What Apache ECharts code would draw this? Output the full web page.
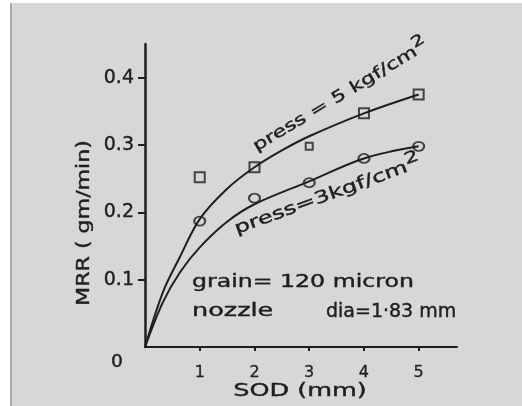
<!DOCTYPE html>
<html><head><meta charset="utf-8">
<script src="https://cdn.jsdelivr.net/npm/echarts@6/dist/echarts.min.js"></script>
<style>html,body{margin:0;padding:0;background:#fff}#c{width:522px;height:406px}</style>
</head><body><div id="c"></div>
<script>
// data
const sod = [1, 2, 3, 4, 5];
const mrrPress5 = [0.252, 0.267, 0.298, 0.347, 0.375];
const mrrPress3 = [0.187, 0.221, 0.244, 0.280, 0.298];
const fit5X = [0, 0.33, 0.64, 1, 1.5, 2, 2.5, 3, 4, 5];
const fit5Y = [0, 0.082, 0.134, 0.19, 0.235, 0.267, 0.292, 0.313, 0.347, 0.375];
const fit3X = [0, 0.33, 0.64, 1, 1.5, 2, 3, 4, 5];
const fit3Y = [0, 0.067, 0.111, 0.148, 0.186, 0.212, 0.246, 0.280, 0.298];
const yTicks = [0.1, 0.2, 0.3, 0.4];
const xTicks = [1, 2, 3, 4, 5];

const ink = '#1e1e1e';
const font = '"DejaVu Sans", sans-serif';
const zip = (a, b) => a.map((v, i) => [v, b[i]]);

function txt(text, x, y, size, sx, rot, align, rich) {
  const st = { text: text, fill: ink, font: size + 'px ' + font,
    align: align || 'center', verticalAlign: 'middle' };
  if (rich) st.rich = rich; else { st.stroke = ink; st.lineWidth = 0.4; }
  return { type: 'text', x: x, y: y, rotation: rot || 0, scaleX: sx || 1, scaleY: 1, silent: true, style: st };
}
function supRich(size) {
  return {
    a: { fontSize: size, fontFamily: font, fill: ink, stroke: ink, lineWidth: 0.4 },
    s: { fontSize: size - 1, fontFamily: font, fill: ink, stroke: ink, lineWidth: 0.4, padding: [0, 0, 14, 0] }
  };
}

const chart = echarts.init(document.getElementById('c'), null, { renderer: 'canvas' });
chart.setOption({
  backgroundColor: '#d7d7d7',
  animation: false,
  grid: { left: 145, right: 65, top: 44, bottom: 59, containLabel: false },
  xAxis: {
    type: 'value', min: 0, max: 5.7, interval: 1,
    axisLine: { show: true, lineStyle: { color: ink, width: 2 } },
    axisTick: { show: true, length: 4, lineStyle: { color: ink, width: 2 },
      customValues: xTicks },
    axisLabel: { color: ink, fontSize: 16, fontFamily: font, margin: 18,
      textBorderColor: ink, textBorderWidth: 0.3,
      customValues: xTicks, formatter: v => xTicks.includes(v) ? String(v) : '' },
    splitLine: { show: false }
  },
  yAxis: {
    type: 'value', min: 0, max: 0.45, interval: 0.1,
    axisLine: { show: true, lineStyle: { color: ink, width: 2.5 } },
    axisTick: { show: true, length: 7, lineStyle: { color: ink, width: 2 },
      customValues: yTicks },
    axisLabel: { color: ink, fontSize: 19, fontFamily: font, margin: 11,
      textBorderColor: ink, textBorderWidth: 0.4,
      customValues: yTicks, formatter: v => v.toFixed(1) },
    splitLine: { show: false }
  },
  series: [
    { type: 'line', data: zip(fit5X, fit5Y), smooth: 0.35, showSymbol: false,
      lineStyle: { color: ink, width: 2 }, silent: true },
    { type: 'line', data: zip(fit3X, fit3Y), smooth: 0.35, showSymbol: false,
      lineStyle: { color: ink, width: 2 }, silent: true },
    { type: 'scatter', symbol: 'rect', symbolSize: 10,
      data: zip(sod, mrrPress5).map((p, i) => i === 2 ? { value: p, symbolSize: 7 } : p),
      itemStyle: { color: 'rgba(0,0,0,0)', borderColor: ink, borderWidth: 2 } },
    { type: 'scatter', symbol: 'circle', symbolSize: [11, 9],
      data: zip(sod, mrrPress3),
      itemStyle: { color: 'rgba(0,0,0,0)', borderColor: ink, borderWidth: 2 } }
  ],
  graphic: [
    { type: 'rect', shape: { x: 0, y: 0, width: 10, height: 406 }, style: { fill: '#ffffff' }, silent: true },
    { type: 'rect', shape: { x: 0, y: 0, width: 522, height: 3 }, style: { fill: '#ffffff' }, silent: true },
    { type: 'rect', shape: { x: 10, y: 3, width: 2, height: 403 }, style: { fill: '#a8a8a8' }, silent: true },
    txt('{a|press = 5 kgf/cm}{s|2}', 341, 96, 16, 1.38, 31 * Math.PI / 180, 'center', supRich(16)),
    txt('{a|press=3kgf/cm}{s|2}', 328, 196, 17, 1.42, 20 * Math.PI / 180, 'center', supRich(17)),
    txt('grain= 120 micron', 192, 283, 17, 1.39, 0, 'left'),
    txt('nozzle', 192, 312, 17, 1.5, 0, 'left'),
    txt('dia=1·83 mm', 326, 312, 19, 1.0, 0, 'left'),
    txt('MRR ( gm/min)', 85, 223, 17, 1.3, Math.PI / 2),
    txt('SOD (mm)', 300, 392, 17, 1.5, 0),
    txt('0', 117, 363, 17, 1.1, 0)
  ]
});
</script></body></html>
